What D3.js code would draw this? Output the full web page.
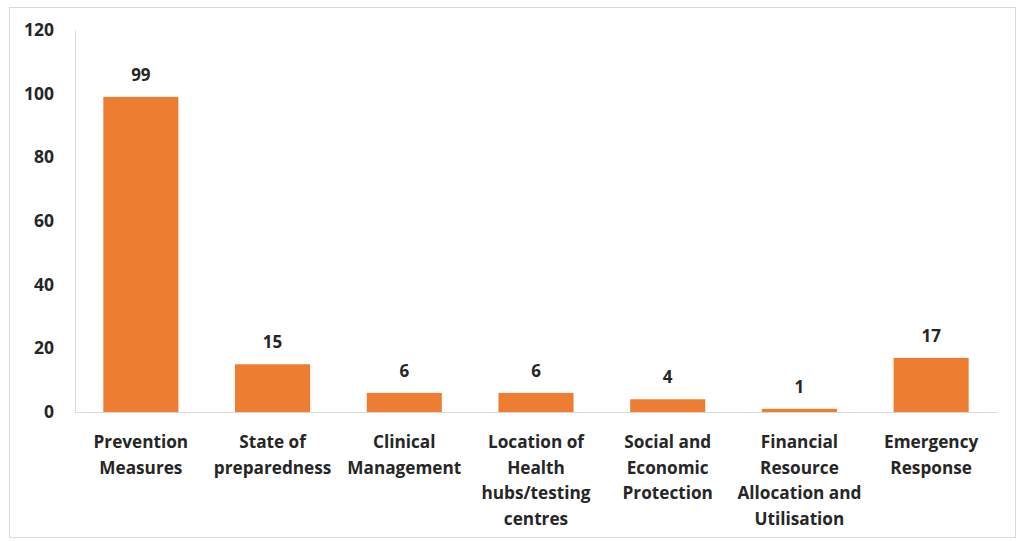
<!DOCTYPE html>
<html><head><meta charset="utf-8">
<script src="https://cdn.jsdelivr.net/npm/d3@7"></script>
<style>body{margin:0;background:#fff;}svg{display:block;}text{font-family:"Open Sans",Lato,sans-serif;font-weight:bold;fill:#262626;}</style>
</head><body><svg id="c" width="1018" height="541"></svg>
<script>
const categories = [
  ["Prevention","Measures"],
  ["State of","preparedness"],
  ["Clinical","Management"],
  ["Location of","Health","hubs/testing","centres"],
  ["Social and","Economic","Protection"],
  ["Financial","Resource","Allocation and","Utilisation"],
  ["Emergency","Response"]
];
const values = [99, 15, 6, 6, 4, 1, 17];
const yTicks = [0, 20, 40, 60, 80, 100, 120];

(function(){
const svg = d3.select("#c");
svg.append("rect").attr("x",9.5).attr("y",7.5).attr("width",1006).attr("height",530)
  .attr("fill","#fff").attr("stroke","#d9d9d9");

const mLeft = 75, mRight = 997, mTop = 30, mBottom = 412;
const keys = categories.map((c,i)=>i);
const x = d3.scaleBand().domain(keys).range([mLeft,mRight]).paddingInner(0.43).paddingOuter(0.215);
const y = d3.scaleLinear().domain([0,120]).range([mBottom,mTop]);

const ya = svg.append("g").attr("transform",`translate(${mLeft},0)`)
  .call(d3.axisLeft(y).tickValues(yTicks).tickSize(0).tickPadding(21));
ya.select(".domain").attr("stroke","#d9d9d9");
ya.selectAll("text").style("font-size","17.5px").style("font-family","'Open Sans',sans-serif").style("font-weight","bold").attr("fill","#262626");

svg.selectAll("rect.bar").data(values).enter().append("rect").attr("class","bar")
  .attr("x",(d,i)=>x(i)).attr("width",x.bandwidth())
  .attr("y",d=>y(d)).attr("height",d=>mBottom-y(d)).attr("fill","#ED7D31");

const xa = svg.append("g").attr("transform",`translate(0,${mBottom})`)
  .call(d3.axisBottom(x).tickSize(0).tickFormat(""));
xa.select(".domain").attr("stroke","#d9d9d9");

const lab = svg.append("g");
categories.forEach((lines,i)=>{
  const cx = x(i)+x.bandwidth()/2;
  const t = lab.append("text").attr("x",cx).attr("y",448)
    .attr("text-anchor","middle").style("font-size","17.2px");
  lines.forEach((l,j)=>t.append("tspan").attr("x",cx).attr("y",448+j*25.7).text(l));
});

svg.selectAll("text.val").data(values).enter().append("text").attr("class","val")
  .attr("x",(d,i)=>x(i)+x.bandwidth()/2).attr("y",d=>y(d)-16)
  .attr("text-anchor","middle").style("font-size","17px").text(d=>d);
})();
</script></body></html>
